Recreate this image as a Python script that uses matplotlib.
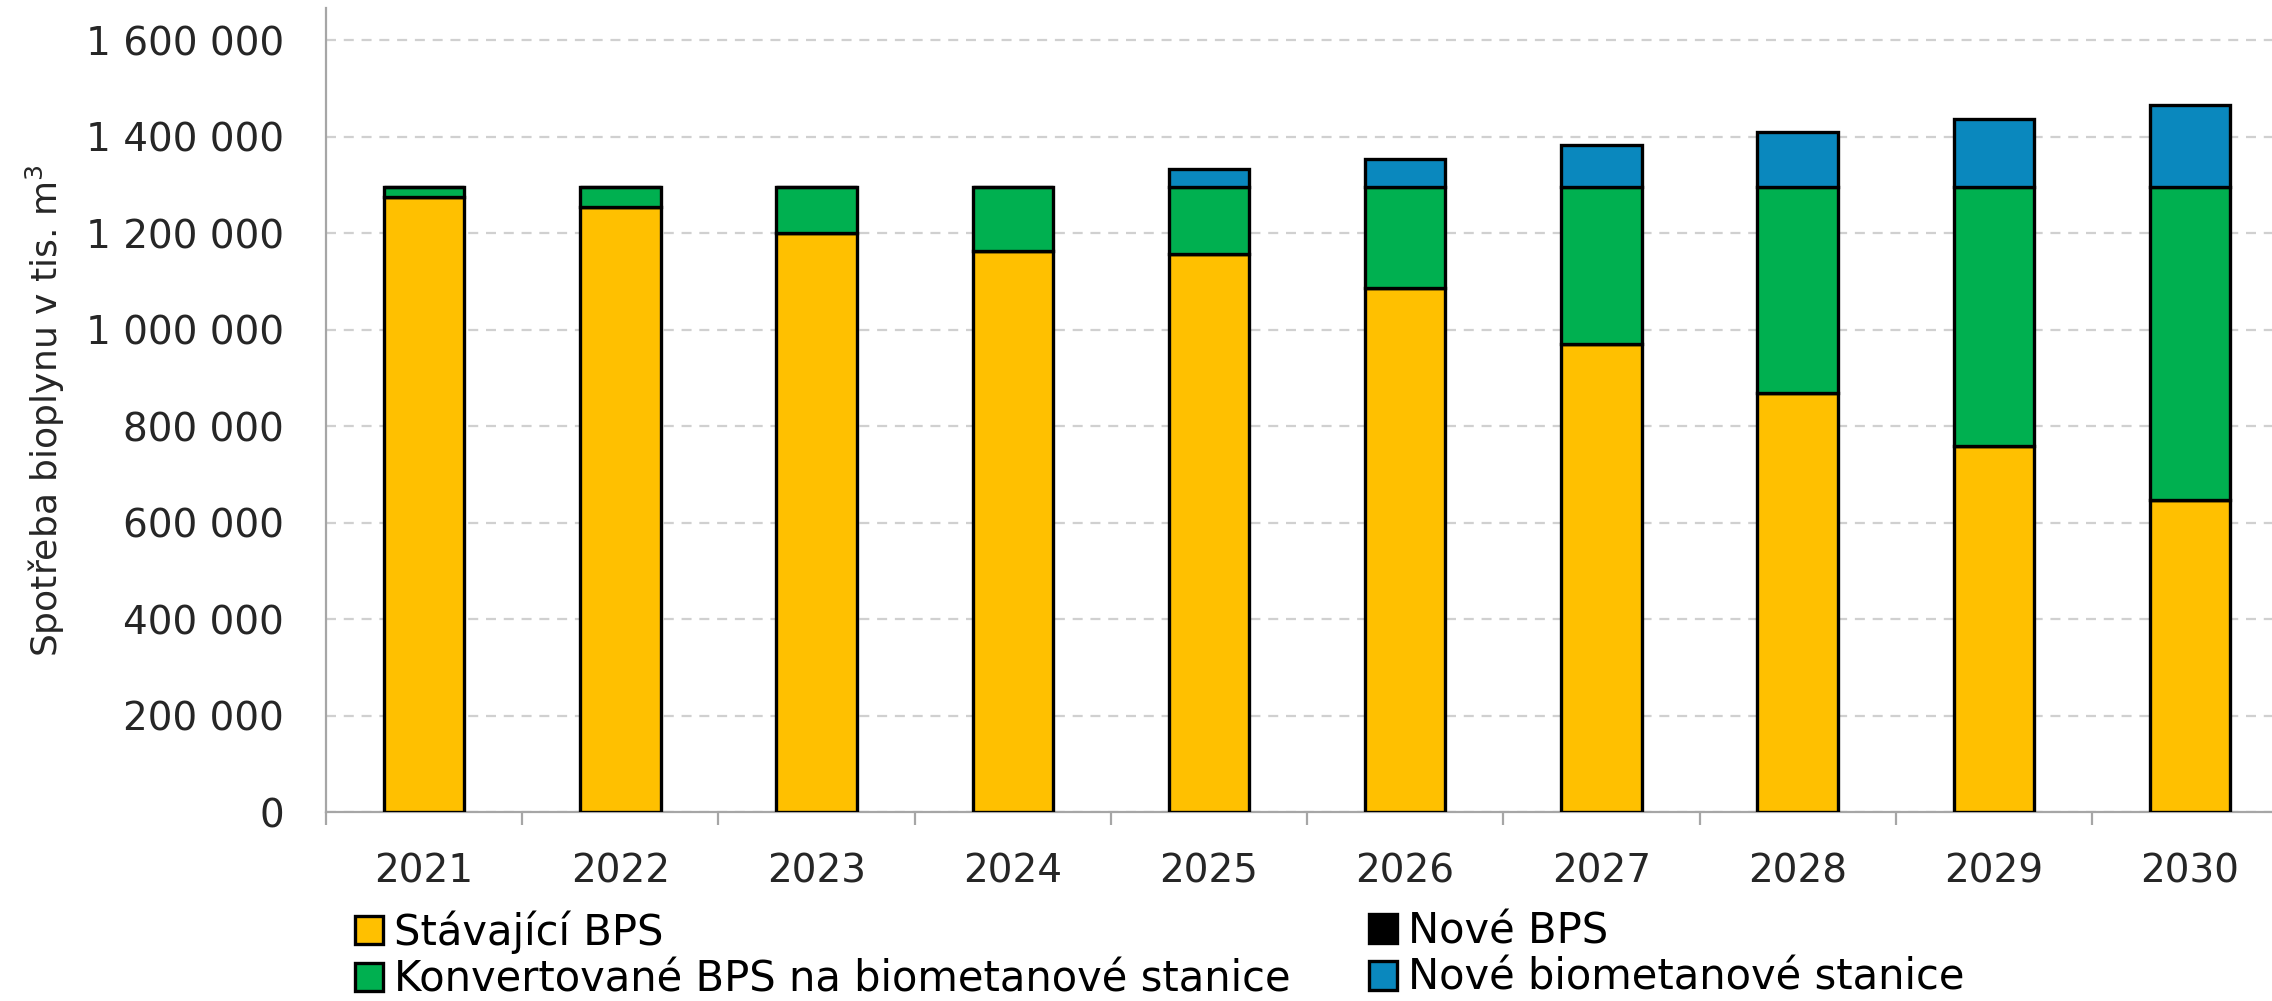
import numpy as np
import matplotlib.pyplot as plt
from matplotlib.patches import Patch
from matplotlib.ticker import FuncFormatter, FixedLocator

years = ["2021", "2022", "2023", "2024", "2025", "2026", "2027", "2028", "2029", "2030"]
stavajici = [1275000, 1255000, 1201000, 1163000, 1156000, 1087000, 969000, 869000, 758000, 647000]
nove_bps = [0, 0, 0, 0, 0, 0, 0, 0, 0, 0]
konvertovane = [20000, 40000, 94000, 132000, 139000, 208000, 326000, 426000, 537000, 648000]
nove_bio = [0, 0, 0, 0, 37000, 58000, 87000, 115000, 141000, 170000]

names = ["Stávající BPS", "Nové BPS", "Konvertované BPS na biometanové stanice",
         "Nové biometanové stanice"]
colors = ["#FFC000", "#000000", "#00B050", "#0A88BE"]

fig = plt.figure(figsize=(22.72, 10.01), dpi=100)
ax = fig.add_axes([0.1435, 0.1888, 0.8636, 0.803])

x = np.arange(len(years))
bottom = np.zeros(len(years))
for vals, c in zip([stavajici, nove_bps, konvertovane, nove_bio], colors):
    vals = np.array(vals, dtype=float)
    ax.bar(x, vals, 0.41, bottom=bottom, color=c, edgecolor="black", linewidth=2.4, zorder=3)
    bottom += vals

ax.set_xlim(-0.5, len(years) - 0.5)
ax.set_ylim(0, 1666000)
ax.set_yticks(np.arange(0, 1600001, 200000))
ax.yaxis.set_major_formatter(FuncFormatter(lambda v, p: f"{int(v):,}".replace(",", " ")))
ax.set_xticks(x)
ax.set_xticklabels(years)
ax.xaxis.set_minor_locator(FixedLocator(np.arange(-0.5, len(years), 1.0)))

ax.grid(axis="y", color="#D0D0D0", linewidth=1.6, linestyle=(0, (4.5, 3.5)), zorder=0)
ax.set_axisbelow(True)

for s in ["top", "right"]:
    ax.spines[s].set_visible(False)
for s in ["left", "bottom"]:
    ax.spines[s].set_color("#A6A6A6")
    ax.spines[s].set_linewidth(1.6)

ax.tick_params(axis="y", length=0, pad=30, labelsize=28, labelcolor="#262626")
ax.tick_params(axis="x", which="major", length=0, pad=29, labelsize=28, labelcolor="#262626")
ax.tick_params(axis="x", which="minor", length=9, width=1.6, color="#A6A6A6")
for lab in ax.get_xticklabels() + ax.get_yticklabels():
    lab.set_family("DejaVu Sans")

ax.set_ylabel("Spotřeba bioplynu v tis. m$^3$", fontsize=26, color="#262626")
ax.yaxis.set_label_coords(-0.132, 0.5)

handles = [Patch(facecolor=c, edgecolor="black", linewidth=2.4) for c in colors]
leg_kw = dict(frameon=False, handlelength=0.68, handleheight=0.68,
              handletextpad=0.25, labelspacing=0.12, borderpad=0, borderaxespad=0,
              prop={"family": "DejaVu Sans", "size": 30})
fig.legend([handles[0], handles[2]], [names[0], names[2]], loc="upper left",
           bbox_to_anchor=(355 / 2272, 1 - 910 / 1001), **leg_kw)
fig.legend([handles[1], handles[3]], [names[1], names[3]], loc="upper left",
           bbox_to_anchor=(1369 / 2272, 1 - 910 / 1001), **leg_kw)

fig.savefig("out.png", dpi=100)
